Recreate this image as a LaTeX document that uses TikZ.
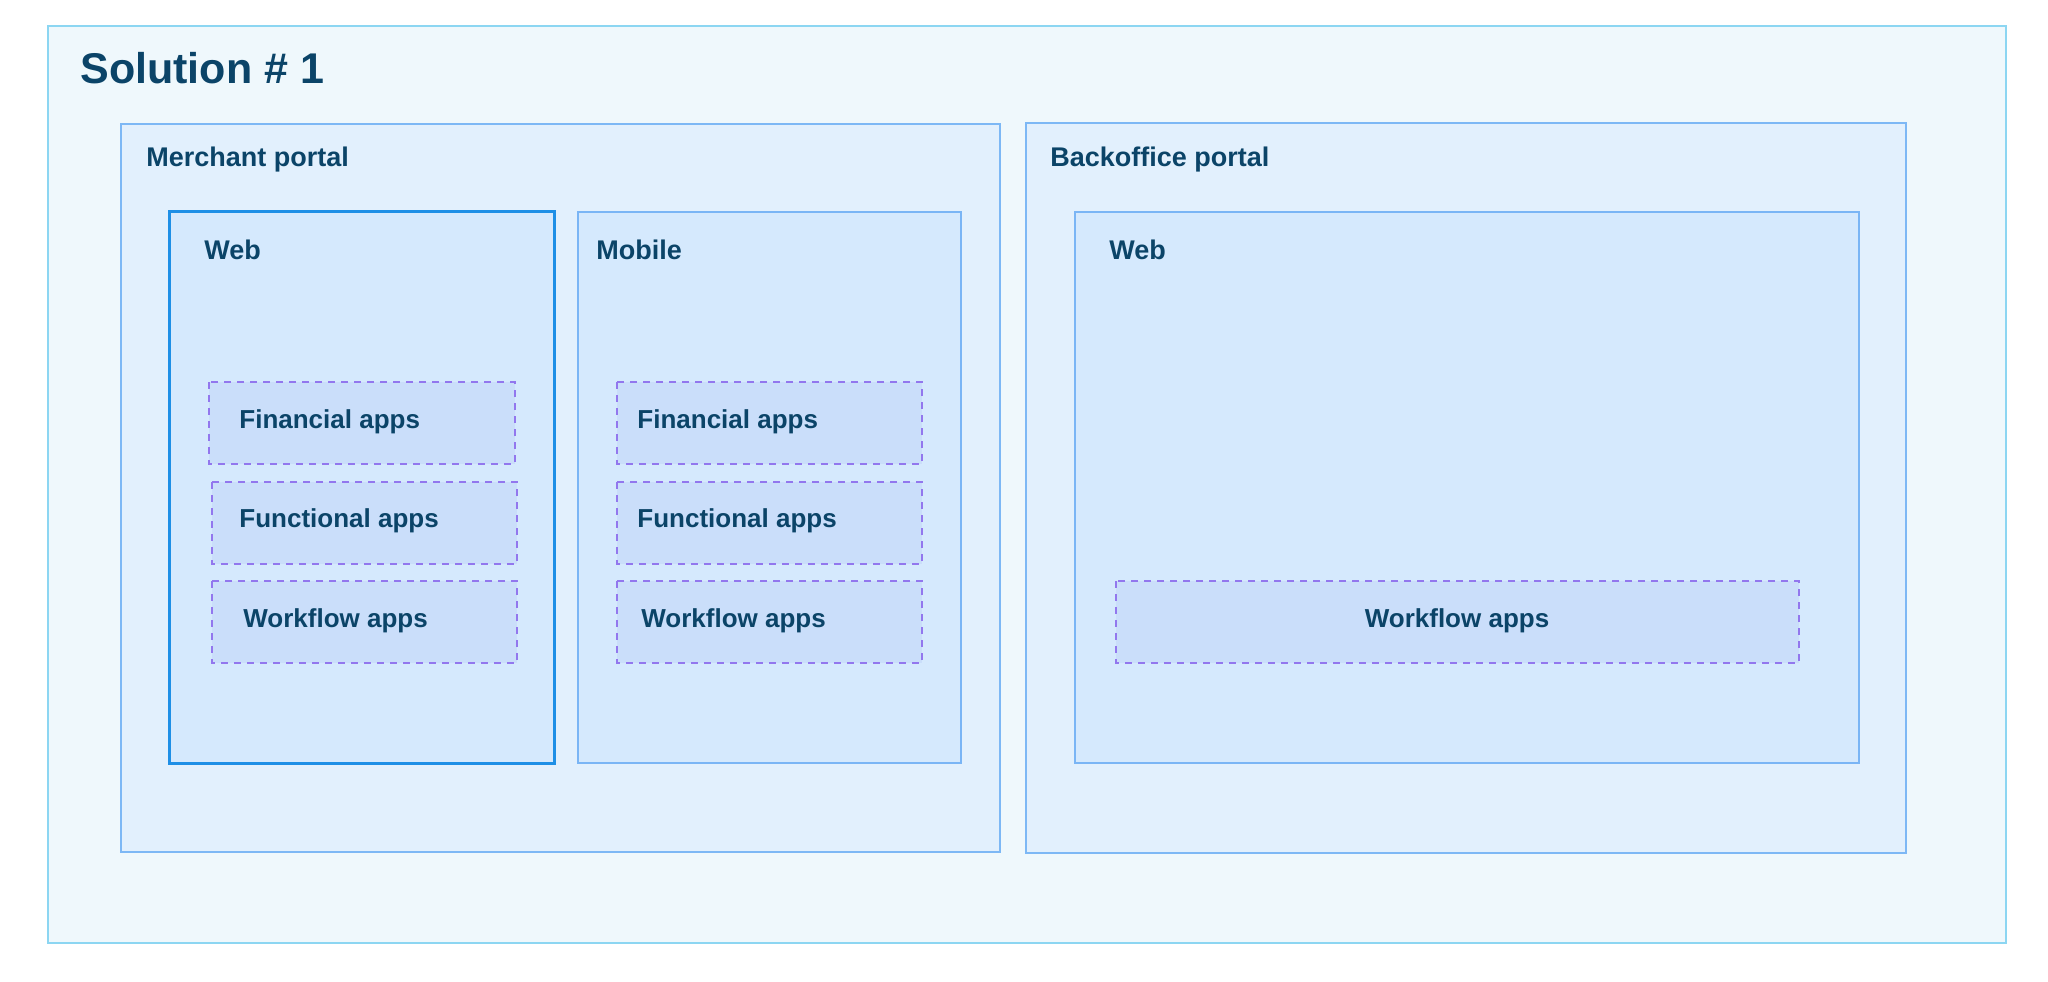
\documentclass[tikz,border=0pt]{standalone}
\usepackage{fontspec}
\setmainfont{Liberation Sans}
\usepackage{xcolor}
\usetikzlibrary{positioning}
\definecolor{inkblue}{HTML}{0B4468}
\definecolor{outerfill}{HTML}{EFF8FC}
\definecolor{outerline}{HTML}{8CD6F2}
\definecolor{portalfill}{HTML}{E2F0FD}
\definecolor{portalline}{HTML}{7DB8F5}
\definecolor{webfill}{HTML}{D5E9FD}
\definecolor{webline}{HTML}{7AB5F5}
\definecolor{activeline}{HTML}{1E8FE6}
\definecolor{appfill}{HTML}{CADEFA}
\definecolor{appline}{HTML}{9277EE}

\tikzset{
  solbox/.style={fill=outerfill, draw=outerline, line width=0.75pt},
  portalbox/.style={fill=portalfill, draw=portalline, line width=0.6pt},
  webbox/.style={fill=webfill, draw=webline, line width=0.6pt},
  activebox/.style={fill=webfill, draw=activeline, line width=1.5pt},
  appbox/.style={fill=appfill, draw=appline, line width=0.7pt, dash pattern=on 3.5pt off 3pt},
  lbl/.style={anchor=base west, inner sep=0pt, text=inkblue, font=\fontsize{13.5}{16}\selectfont\bfseries},
  applbl/.style={lbl, font=\fontsize{13}{16}\selectfont\bfseries},
}

\begin{document}
\begin{tikzpicture}[x=0.5pt, y=-0.5pt]
        \useasboundingbox (0,0) rectangle (2048,981);

        %OUTER
        \draw[solbox] (48,26) rectangle (2006,943);
        \node[lbl, font=\fontsize{21.5}{26}\selectfont\bfseries] (title) at (80,83) {Solution \# 1};

        %MERCHANT PORTAL
        \draw[portalbox] (121,124) rectangle (1000,852);
        \node[lbl] (merchant) at (146,166) {Merchant portal};

        \draw[activebox] (169,211) rectangle (554,763);
        \node[lbl] (mweb) at (204,259) {Web};
        \draw[appbox] (209,382) rectangle (515,464);
        \node[applbl] (mwebfin) at (239,428) {Financial apps};
        \draw[appbox] (212,482) rectangle (517,564);
        \node[applbl] (mwebfun) at (239,527) {Functional apps};
        \draw[appbox] (212,581) rectangle (517,663);
        \node[applbl] (mwebwf) at (243,627) {Workflow apps};

        \draw[webbox] (578,212) rectangle (961,763);
        \node[lbl] (mmob) at (596,259) {Mobile};
        \draw[appbox] (617,382) rectangle (922,464);
        \node[applbl] (mmobfin) at (637,428) {Financial apps};
        \draw[appbox] (617,482) rectangle (922,564);
        \node[applbl] (mmobfun) at (637,527) {Functional apps};
        \draw[appbox] (617,581) rectangle (922,663);
        \node[applbl] (mmobwf) at (641,627) {Workflow apps};

        %BACKOFFICE PORTAL
        \draw[portalbox] (1026,123) rectangle (1906,853);
        \node[lbl] (backoffice) at (1050,166) {Backoffice portal};

        \draw[webbox] (1075,212) rectangle (1859,763);
        \node[lbl] (bweb) at (1109,259) {Web};
        \draw[appbox] (1116,581) rectangle (1799,663);
        \node[applbl, anchor=base] (bwebwf) at (1457,627) {Workflow apps};
    \end{tikzpicture}
\end{document}
